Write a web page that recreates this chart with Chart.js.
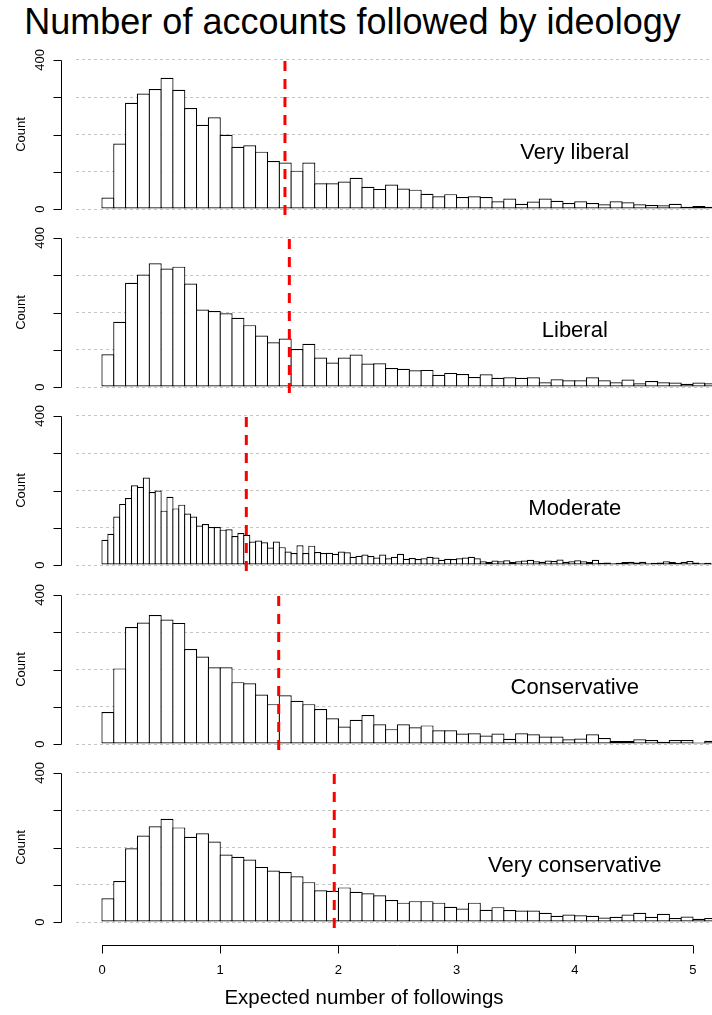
<!DOCTYPE html>
<html>
<head>
<meta charset="utf-8">
<script src="https://cdn.jsdelivr.net/npm/chart.js@4.4.1/dist/chart.umd.min.js"></script>
<style>
  body { margin: 0; background: #fff; width: 712px; height: 1015px; position: relative; overflow: hidden; font-family: "Liberation Sans", Arial, sans-serif; }
  canvas { position: absolute; left: 0; }
  #title { position: absolute; left: 0; top: 0; width: 705px; text-align: center; font-size: 36px; line-height: 44px; color: #000; }
</style>
</head>
<body>
<div id="title">Number of accounts followed by ideology</div>
<canvas id="p0" width="712" height="178" style="top:45px"></canvas>
<canvas id="p1" width="712" height="178" style="top:223px"></canvas>
<canvas id="p2" width="712" height="178" style="top:401px"></canvas>
<canvas id="p3" width="712" height="178" style="top:580px"></canvas>
<canvas id="p4" width="712" height="257" style="top:758px"></canvas>
<script>
// histogram bins start at 0; moderate uses half-width bins
const binWidth = 0.1;
const binWidthModerate = 0.05;

const panelNames = ["Very liberal", "Liberal", "Moderate", "Conservative", "Very conservative"];

const veryLiberal = [31, 176, 285, 310, 322, 352, 320, 271, 226, 246, 199, 167, 171, 154, 129, 125, 103, 125, 69, 69,
  74, 84, 60, 54, 66, 55, 52, 41, 34, 40, 32, 34, 32, 21, 28, 14, 20, 28, 22, 16,
  21, 16, 13, 21, 18, 13, 11, 10, 14, 6, 8, 6];

const liberal = [88, 175, 280, 302, 332, 318, 323, 278, 208, 204, 198, 186, 166, 138, 120, 130, 102, 116, 79, 66,
  79, 87, 63, 64, 51, 49, 45, 46, 33, 38, 35, 27, 34, 25, 26, 25, 26, 13, 21, 18,
  18, 26, 18, 13, 20, 10, 16, 13, 12, 9, 12, 10];

const moderate = [68, 84, 130, 164, 180, 214, 210, 235, 196, 200, 146, 183, 152, 162, 138, 130, 106, 110, 102, 102,
  95, 96, 78, 86, 81, 63, 66, 61, 47, 63, 48, 36, 32, 53, 32, 52,
  35, 32, 33, 30, 36, 34, 22, 25, 28, 24, 20, 28, 18, 22, 30, 17, 19, 16, 18, 22,
  20, 14, 17, 16, 18, 20, 22, 18, 10, 8, 12, 10, 13, 8, 10, 12, 14, 10, 9, 12,
  11, 15, 9, 10, 13, 10, 8, 14, 6, 7, 5, 6, 8, 9, 7, 9, 5, 6, 7, 10,
  8, 6, 9, 11, 7, 5, 6, 4];

const conservative = [86, 203, 314, 326, 346, 334, 325, 255, 235, 206, 206, 166, 163, 133, 107, 131, 116, 107, 94, 69,
  47, 65, 78, 53, 40, 53, 45, 50, 37, 37, 28, 29, 23, 28, 14, 29, 26, 20, 20, 13,
  15, 26, 16, 8, 8, 13, 11, 6, 11, 11, 4, 9];

const veryConservative = [64, 110, 198, 232, 257, 277, 254, 229, 238, 216, 181, 175, 168, 148, 138, 134, 123, 107, 85, 84,
  93, 81, 77, 72, 59, 52, 56, 56, 52, 41, 36, 52, 33, 40, 32, 31, 31, 25, 17, 20,
  18, 17, 12, 14, 20, 25, 14, 22, 11, 15, 9, 11];

// mean of each group (red dashed line)
const meanLines = [1.548, 1.585, 1.221, 1.495, 1.965];

const xTicks = [0, 1, 2, 3, 4, 5];
const yTicks = [0, 100, 200, 300, 400];
const yTickLabels = ["0", "", "", "", "400"];

const xTitle = "Expected number of followings";
const yTitle = "Count";

const FONT = "'Liberation Sans', Arial, sans-serif";
const Y_MIN = -16, Y_MAX = 416;
const X_MIN = -0.22, X_MAX = 5.161;
const BAR_BORDER = 1.2;

// draws R-style axes, panel label, and x axis on last panel
const rAxes = {
  id: "rAxes",
  afterDraw(chart, args, opts) {
    const ctx = chart.ctx;
    const xs = chart.scales.x, ys = chart.scales.y;
    const area = chart.chartArea;
    const ax = Math.round(area.left - 15) + 0.5;
    ctx.save();
    ctx.strokeStyle = "#000";
    ctx.lineWidth = 1;
    ctx.beginPath();
    ctx.moveTo(ax, Math.round(ys.getPixelForValue(yTicks[0])) + 0.5);
    ctx.lineTo(ax, Math.round(ys.getPixelForValue(yTicks[yTicks.length - 1])) + 0.5);
    yTicks.forEach(v => {
      const py = Math.round(ys.getPixelForValue(v)) + 0.5;
      ctx.moveTo(ax, py);
      ctx.lineTo(ax - 8, py);
    });
    ctx.stroke();

    ctx.fillStyle = "#000";
    ctx.textAlign = "center";
    ctx.textBaseline = "middle";
    ctx.font = "13px " + FONT;
    yTicks.forEach((v, i) => {
      if (!yTickLabels[i]) return;
      ctx.save();
      ctx.translate(ax - 21, ys.getPixelForValue(v));
      ctx.rotate(-Math.PI / 2);
      ctx.fillText(yTickLabels[i], 0, 0);
      ctx.restore();
    });
    ctx.save();
    ctx.translate(ax - 40, (ys.getPixelForValue(0) + ys.getPixelForValue(400)) / 2);
    ctx.rotate(-Math.PI / 2);
    ctx.fillText(yTitle, 0, 0);
    ctx.restore();

    ctx.font = "22px " + FONT;
    ctx.fillText(opts.label, xs.getPixelForValue(4.0), ys.getPixelForValue(150));

    if (opts.xAxis) {
      const ly = Math.round(area.bottom + 17) + 0.5;
      ctx.beginPath();
      ctx.moveTo(xs.getPixelForValue(xTicks[0]), ly);
      ctx.lineTo(xs.getPixelForValue(xTicks[xTicks.length - 1]), ly);
      xTicks.forEach(v => {
        const px = Math.round(xs.getPixelForValue(v)) + 0.5;
        ctx.moveTo(px, ly);
        ctx.lineTo(px, ly + 8);
      });
      ctx.stroke();
      ctx.font = "13px " + FONT;
      xTicks.forEach(v => ctx.fillText(String(v), xs.getPixelForValue(v), area.bottom + 42));
      ctx.font = "20.5px " + FONT;
      ctx.fillText(xTitle, 364, area.bottom + 70);
    }
    ctx.restore();
  }
};

function makePanel(id, name, values, width, mean, isLast) {
  const bars = values.map((v, i) => ({ x: i * width + width / 2, y: v }));
  const binPx = 118.2 * width;
  return new Chart(document.getElementById(id), {
    data: {
      datasets: [
        {
          type: "line",
          data: [{ x: mean, y: Y_MIN }, { x: mean, y: Y_MAX }],
          borderColor: "#ff0000",
          borderWidth: 3,
          borderDash: [10, 8],
          pointRadius: 0,
          order: 0,
        },
        {
          type: "bar",
          data: bars,
          backgroundColor: "#ffffff",
          borderColor: "#000000",
          borderWidth: BAR_BORDER,
          borderSkipped: false,
          inflateAmount: 0,
          categoryPercentage: 1,
          barPercentage: 1 + BAR_BORDER / binPx,
          order: 1,
        },
      ],
    },
    options: {
      responsive: false,
      animation: false,
      layout: { padding: { left: 76, right: 0, top: 9, bottom: isLast ? 87 : 8 } },
      plugins: {
        legend: { display: false },
        tooltip: { enabled: false },
        rAxes: { label: name, xAxis: isLast },
      },
      scales: {
        x: { type: "linear", min: X_MIN, max: X_MAX, offset: false, display: false, grid: { offset: false } },
        y: {
          min: Y_MIN,
          max: Y_MAX,
          ticks: { display: false, stepSize: 100, includeBounds: false },
          grid: { color: "#c4c4c4", lineWidth: 1, drawTicks: false },
          border: { display: false, dash: [3, 3] },
        },
      },
    },
    plugins: [rAxes],
  });
}

makePanel("p0", panelNames[0], veryLiberal, binWidth, meanLines[0], false);
makePanel("p1", panelNames[1], liberal, binWidth, meanLines[1], false);
makePanel("p2", panelNames[2], moderate, binWidthModerate, meanLines[2], false);
makePanel("p3", panelNames[3], conservative, binWidth, meanLines[3], false);
makePanel("p4", panelNames[4], veryConservative, binWidth, meanLines[4], true);
</script>
</body>
</html>
